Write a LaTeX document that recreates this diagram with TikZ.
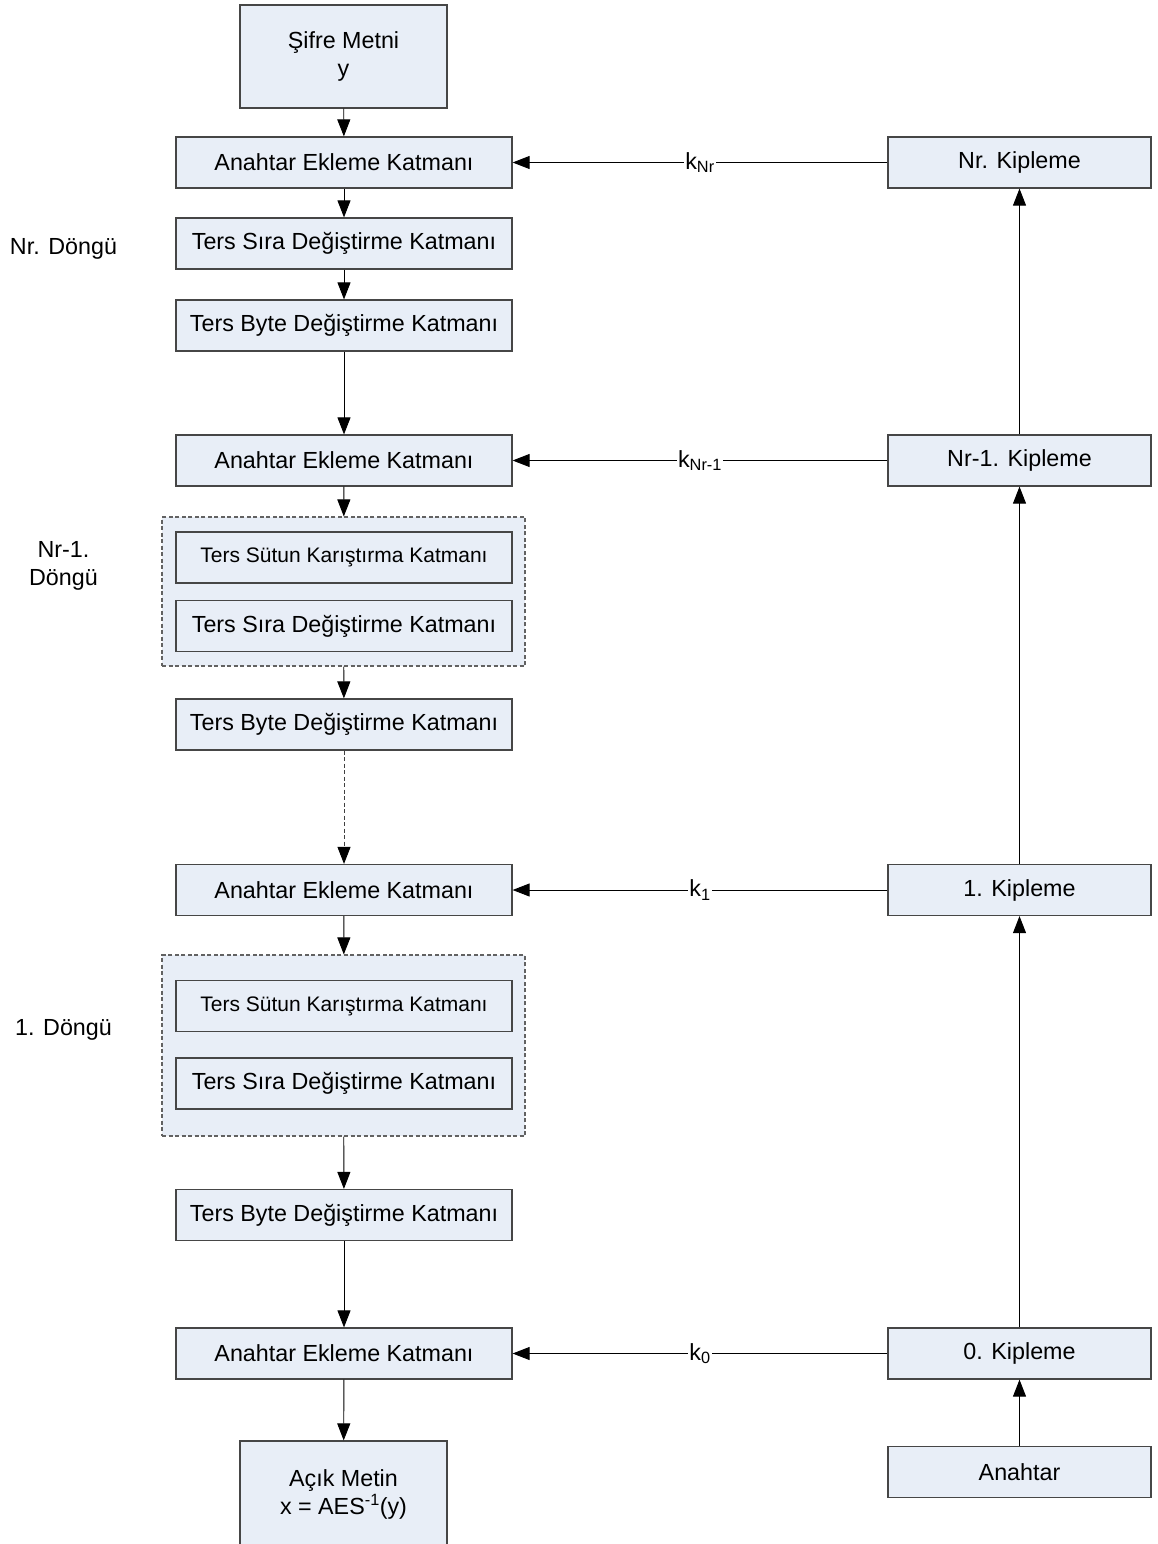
\documentclass[tikz,border=0pt]{standalone}
\usepackage{fontspec}
\setmainfont{Liberation Sans}
\usetikzlibrary{arrows.meta}
\definecolor{boxfill}{RGB}{232,238,247}
\definecolor{boxline}{RGB}{70,70,70}
\begin{document}
\begin{tikzpicture}[x=1pt,y=-1pt,
  every node/.style={font=\fontsize{23.3}{28}\selectfont, inner sep=0pt, align=center},
  layer/.style={draw=boxline, line width=1.2pt, fill=boxfill, minimum width=336pt, minimum height=51pt},
  smalllayer/.style={layer, font=\fontsize{21}{25}\selectfont},
  keybox/.style={draw=boxline, line width=1.2pt, fill=boxfill, minimum width=263pt, minimum height=51pt},
  textbox/.style={draw=boxline, line width=1.2pt, fill=boxfill, minimum width=207pt, minimum height=103pt},
  roundgroup/.style={draw=boxline!85, dash pattern=on 4pt off 2.5pt, line width=1.1pt, fill=boxfill, minimum width=363pt},
  flow/.style={draw=black, line width=0.9pt, -{Triangle[length=17pt,width=13pt,black]}},
  keylabel/.style={fill=white, inner xsep=1pt, inner ysep=2pt}]
\useasboundingbox (0,0) rectangle (1157,1544);

% round groups (drawn first, behind their inner layers)
\node[roundgroup, minimum height=149pt] (g1) at (343.5,591.5) {};
\node[roundgroup, minimum height=181pt] (g2) at (343.5,1045.5) {};

% main (decryption) column
\node[textbox] (ct) at (343.5,56.5) {Şifre Metni\\y};
\node[layer] (a1) at (344,162.5) {Anahtar Ekleme Katmanı};
\node[layer] (s1) at (344,243.5) {Ters Sıra Değiştirme Katmanı};
\node[layer] (b1) at (344,325.5) {Ters Byte Değiştirme Katmanı};
\node[layer] (a2) at (344,460.5) {Anahtar Ekleme Katmanı};
\node[smalllayer] (m2) at (344,557.5) {Ters Sütun Karıştırma Katmanı};
\node[layer] (s2) at (344,626) {Ters Sıra Değiştirme Katmanı};
\node[layer] (b2) at (344,724.5) {Ters Byte Değiştirme Katmanı};
\node[layer] (a3) at (344,890) {Anahtar Ekleme Katmanı};
\node[smalllayer] (m3) at (344,1006) {Ters Sütun Karıştırma Katmanı};
\node[layer] (s3) at (344,1083.5) {Ters Sıra Değiştirme Katmanı};
\node[layer] (b3) at (344,1215) {Ters Byte Değiştirme Katmanı};
\node[layer] (a4) at (344,1353.5) {Anahtar Ekleme Katmanı};
\node[textbox, minimum height=107pt] (pt) at (343.5,1494.5) {Açık Metin\\x = AES\textsuperscript{-1}(y)};

% round labels
\node (r1) at (63.5,249) {Nr. Döngü};
\node (r2) at (63.5,566) {Nr-1.\\Döngü};
\node (r3) at (63.5,1030) {1. Döngü};

% key schedule column
\node[keybox] (kNr) at (1019.5,162.5) {Nr. Kipleme};
\node[keybox] (kNr1) at (1019.5,460.5) {Nr-1. Kipleme};
\node[keybox] (k1) at (1019.5,890) {1. Kipleme};
\node[keybox] (k0) at (1019.5,1353.5) {0. Kipleme};
\node[keybox] (key) at (1019.5,1472) {Anahtar};

% data path
\draw[flow] (ct) -- (a1);
\draw[flow] (a1) -- (s1);
\draw[flow] (s1) -- (b1);
\draw[flow] (b1) -- (a2);
\draw[flow] (a2) -- (g1);
\draw[flow] (g1) -- (b2);
\draw[flow, draw=black!75, dash pattern=on 4pt off 2.5pt] (b2) -- (a3);
\draw[flow] (a3) -- (g2);
\draw[flow] (g2) -- (b3);
\draw[flow] (b3) -- (a4);
\draw[flow] (a4) -- (pt);

% key schedule path
\draw[flow] (key) -- (k0);
\draw[flow] (k0) -- (k1);
\draw[flow] (k1) -- (kNr1);
\draw[flow] (kNr1) -- (kNr);

% round keys
\draw[flow] (kNr) -- node[keylabel] (lNr) {k\textsubscript{Nr}} (a1);
\draw[flow] (kNr1) -- node[keylabel] (lNr1) {k\textsubscript{Nr-1}} (a2);
\draw[flow] (k1) -- node[keylabel] (l1) {k\textsubscript{1}} (a3);
\draw[flow] (k0) -- node[keylabel] (l0) {k\textsubscript{0}} (a4);
\end{tikzpicture}
\end{document}
